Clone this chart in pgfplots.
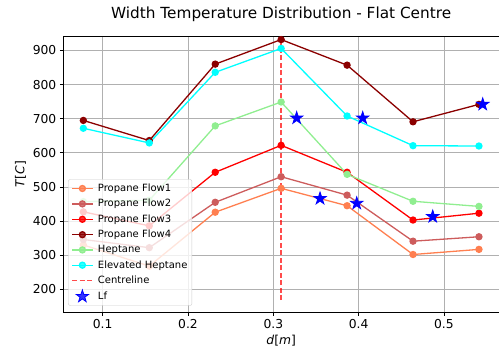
\documentclass[border=0pt]{standalone}
\usepackage{fontspec}
\setmainfont{DejaVu Sans}
\usepackage{pgfplots}
\pgfplotsset{compat=1.18}
\definecolor{coral}{HTML}{FF7F50}
\definecolor{indianred}{HTML}{CD5C5C}
\definecolor{darkred}{HTML}{8B0000}
\definecolor{lightgreen}{HTML}{90EE90}
\definecolor{cyanc}{HTML}{00FFFF}
\definecolor{gridc}{HTML}{B0B0B0}
\definecolor{legc}{HTML}{CCCCCC}
\pgfdeclareplotmark{fstar}{%
  \pgfpathmoveto{\pgfqpoint{0pt}{\pgfplotmarksize}}%
  \pgfpathlineto{\pgfqpoint{-0.2245\pgfplotmarksize}{0.309\pgfplotmarksize}}%
  \pgfpathlineto{\pgfqpoint{-0.951\pgfplotmarksize}{0.309\pgfplotmarksize}}%
  \pgfpathlineto{\pgfqpoint{-0.363\pgfplotmarksize}{-0.118\pgfplotmarksize}}%
  \pgfpathlineto{\pgfqpoint{-0.588\pgfplotmarksize}{-0.809\pgfplotmarksize}}%
  \pgfpathlineto{\pgfqpoint{0pt}{-0.382\pgfplotmarksize}}%
  \pgfpathlineto{\pgfqpoint{0.588\pgfplotmarksize}{-0.809\pgfplotmarksize}}%
  \pgfpathlineto{\pgfqpoint{0.363\pgfplotmarksize}{-0.118\pgfplotmarksize}}%
  \pgfpathlineto{\pgfqpoint{0.951\pgfplotmarksize}{0.309\pgfplotmarksize}}%
  \pgfpathlineto{\pgfqpoint{0.2245\pgfplotmarksize}{0.309\pgfplotmarksize}}%
  \pgfpathclose
  \pgfusepathqfillstroke}
\begin{document}
\begin{tikzpicture}
\begin{axis}[
  at={(0,0)}, anchor=south west,
  scale only axis, width=435.7pt, height=275.8pt,
  xmin=0.0538, xmax=0.5646, ymin=132.6, ymax=941,
  xtick={0.1,0.2,0.3,0.4,0.5}, xticklabels={0.1,0.2,0.3,0.4,0.5},
  ytick={200,300,400,500,600,700,800,900},
  /pgf/number format/assume math mode=true,
  ticklabel style={font=\fontsize{12.3}{14}\selectfont},
  tick align=outside, tick pos=left,
  major tick length=3.5pt,
  every tick/.style={black, line width=0.8pt},
  grid=major, major grid style={gridc, line width=0.8pt},
  axis line style={black, line width=0.8pt},
  title={Width Temperature Distribution - Flat Centre},
  title style={font=\fontsize{15.3}{18}\selectfont, yshift=5pt},
  xlabel={\textit{d}[\textit{m}]},
  ylabel={\textit{T}[\textit{C}]},
  label style={font=\fontsize{12.3}{14}\selectfont},
  every axis plot/.append style={line width=1.3pt},
  mark size=3pt,
  legend cell align=left,
  legend image code/.code={\draw[mark repeat=2,mark phase=2] plot coordinates {(0pt,0pt) (10.3pt,0pt) (20.6pt,0pt)};},
  legend style={at={(0.011,0.024)}, anchor=south west,
    font=\fontsize{10}{12}\selectfont,
    fill=white, fill opacity=0.8, text opacity=1, draw=legc,
    rounded corners=2pt, row sep=3.3pt, column sep=3pt, inner sep=3pt,
    nodes={inner sep=1.5pt}},
]
\addplot[coral, mark=*] coordinates {
 (0.0773,330) (0.1546,268) (0.2319,426) (0.3092,496) (0.3865,445) (0.4638,302) (0.5411,317)};
\addlegendentry{Propane Flow1}
\addplot[indianred, mark=*] coordinates {
 (0.0773,346) (0.1546,322) (0.2319,455) (0.3092,530) (0.3865,476) (0.4638,341) (0.5411,354)};
\addlegendentry{Propane Flow2}
\addplot[red, mark=*] coordinates {
 (0.0773,427) (0.1546,386) (0.2319,543) (0.3092,622) (0.3865,543) (0.4638,403) (0.5411,423)};
\addlegendentry{Propane Flow3}
\addplot[darkred, mark=*] coordinates {
 (0.0773,695) (0.1546,636) (0.2319,860) (0.3092,932) (0.3865,857) (0.4638,691) (0.5411,742)};
\addlegendentry{Propane Flow4}
\addplot[lightgreen, mark=*] coordinates {
 (0.0773,457) (0.1546,461) (0.2319,679) (0.3092,749) (0.3865,537) (0.4638,458) (0.5411,443)};
\addlegendentry{Heptane}
\addplot[cyanc, mark=*] coordinates {
 (0.0773,672) (0.1546,629) (0.2319,836) (0.3092,906) (0.3865,708) (0.4638,621) (0.5411,620)};
\addlegendentry{Elevated Heptane}
\addplot[red, opacity=0.7, dash pattern=on 5pt off 2.5pt, line width=1.6pt] coordinates {
 (0.3092,168) (0.3092,925)};
\addlegendentry{Centreline}
\addplot[only marks, blue, mark=fstar, mark size=6.5pt, line width=0.8pt] coordinates {
 (0.3274,702) (0.4048,702) (0.3548,466) (0.3978,452) (0.4869,413) (0.5455,742)};
\addlegendentry{Lf}
\end{axis}
\pgfresetboundingbox
\path[use as bounding box] (-63.3pt,-40.7pt) rectangle (435.7pt,312.3pt);
\end{tikzpicture}
\end{document}
